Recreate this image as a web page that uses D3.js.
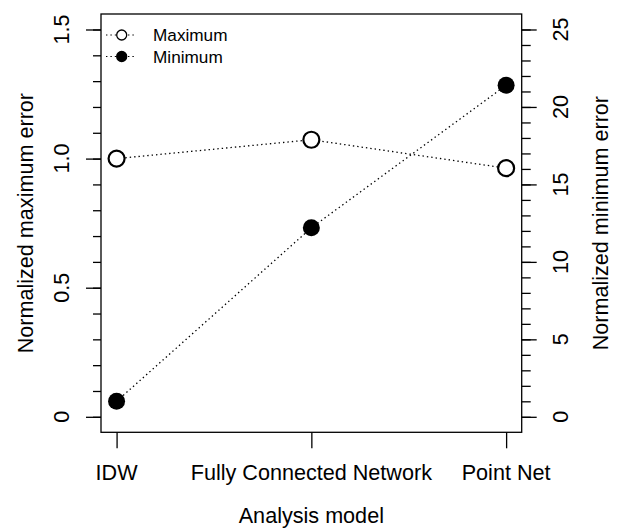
<!DOCTYPE html>
<html>
<head>
<meta charset="utf-8">
<script src="https://cdn.jsdelivr.net/npm/d3@7"></script>
<style>
    body { margin: 0; background: #fff; }
    svg text { font-family: "Liberation Sans", Arial, sans-serif; fill: #000; }
</style>
</head>
<body>
<svg id="chart" width="619" height="529"></svg>
<script>
    // chart values
    const models = ["IDW", "Fully Connected Network", "Point Net"];
    const maxError = [1.0, 1.073, 0.963];     // left axis
    const minError = [1.0, 12.2, 21.4];       // right axis
    const leftTicks = [0, 0.5, 1.0, 1.5];
    const rightTicks = [0, 5, 10, 15, 20, 25];
    const legendLabels = ["Maximum", "Minimum"];

    const svg = d3.select("#chart");
    const box = { left: 101, right: 521.7, top: 14, bottom: 432.3 };
    const FS = 21.6;   // axis text size

    // R style: 4% padding around the data range
    const x = d3.scaleLinear().domain([0.92, 3.08]).range([box.left, box.right]);
    const yL = d3.scaleLinear().domain([-0.06, 1.56]).range([box.bottom, box.top]);
    const yR = d3.scaleLinear().domain([-1, 26]).range([box.bottom, box.top]);

    const xi = (d, i) => x(i + 1);

    // plot frame
    svg.append("rect")
        .attr("x", box.left).attr("y", box.top)
        .attr("width", box.right - box.left).attr("height", box.bottom - box.top)
        .attr("fill", "none").attr("stroke", "#000").attr("stroke-width", 1.3);

    // left axis: major ticks every 0.5, minor every 0.1
    const leftMinor = d3.range(0, 16).map((d) => d / 10);
    svg.append("g")
        .attr("transform", `translate(${box.left},0)`)
        .call(d3.axisLeft(yL).tickValues(leftMinor).tickSize(8).tickFormat(""))
        .call((g) => g.select(".domain").remove());
    svg.append("g")
        .attr("transform", `translate(${box.left},0)`)
        .call(d3.axisLeft(yL).tickValues(leftTicks).tickSize(15).tickFormat(""))
        .call((g) => g.select(".domain").remove());

    svg.append("g").selectAll("text")
        .data(leftTicks)
        .enter()
        .append("text")
        .attr("transform", (d) => `translate(68.5,${yL(d)}) rotate(-90)`)
        .attr("text-anchor", "middle")
        .attr("font-size", FS)
        .text((d) => d === 0 ? "0" : d3.format(".1f")(d));

    // right axis: major every 5, minor every 1
    const rightMinor = d3.range(0, 26);
    svg.append("g")
        .attr("transform", `translate(${box.right},0)`)
        .call(d3.axisRight(yR).tickValues(rightMinor).tickSize(9).tickFormat(""))
        .call((g) => g.select(".domain").remove());
    svg.append("g")
        .attr("transform", `translate(${box.right},0)`)
        .call(d3.axisRight(yR).tickValues(rightTicks).tickSize(15).tickFormat(""))
        .call((g) => g.select(".domain").remove());

    svg.append("g").selectAll("text")
        .data(rightTicks)
        .enter()
        .append("text")
        .attr("transform", (d) => `translate(567.5,${yR(d)}) rotate(-90)`)
        .attr("text-anchor", "middle")
        .attr("font-size", FS)
        .text((d) => d);

    // bottom axis
    svg.append("g")
        .attr("transform", `translate(0,${box.bottom})`)
        .call(d3.axisBottom(x).tickValues([1, 2, 3]).tickSize(16).tickFormat(""))
        .call((g) => g.select(".domain").remove());
    svg.selectAll(".tick line").attr("stroke-width", 1.3);

    svg.append("g").selectAll("text")
        .data(models)
        .enter()
        .append("text")
        .attr("x", xi)
        .attr("y", 480)
        .attr("text-anchor", "middle")
        .attr("font-size", FS)
        .text((d) => d);

    // axis titles
    svg.append("text")
        .attr("x", (box.left + box.right) / 2).attr("y", 523)
        .attr("text-anchor", "middle").attr("font-size", FS)
        .text("Analysis model");
    svg.append("text")
        .attr("transform", `translate(33,${(box.top + box.bottom) / 2}) rotate(-90)`)
        .attr("text-anchor", "middle").attr("font-size", FS)
        .text("Normalized maximum error");
    svg.append("text")
        .attr("transform", `translate(608,${(box.top + box.bottom) / 2}) rotate(-90)`)
        .attr("text-anchor", "middle").attr("font-size", FS)
        .text("Normalized minimum error");

    // series lines (dotted)
    const dotted = "1.4,3";
    svg.append("path")
        .datum(maxError)
        .attr("d", d3.line().x(xi).y((d) => yL(d)))
        .attr("fill", "none").attr("stroke", "#000")
        .attr("stroke-width", 1.3).attr("stroke-dasharray", dotted);
    svg.append("path")
        .datum(minError)
        .attr("d", d3.line().x(xi).y((d) => yR(d)))
        .attr("fill", "none").attr("stroke", "#000")
        .attr("stroke-width", 1.3).attr("stroke-dasharray", dotted);

    // points
    svg.append("g").selectAll("circle")
        .data(maxError)
        .enter()
        .append("circle")
        .attr("cx", xi).attr("cy", (d) => yL(d)).attr("r", 8)
        .attr("fill", "#fff").attr("stroke", "#000").attr("stroke-width", 2.2);
    svg.append("g").selectAll("circle")
        .data(minError)
        .enter()
        .append("circle")
        .attr("cx", xi).attr("cy", (d) => yR(d)).attr("r", 8.5)
        .attr("fill", "#000");

    // legend (no box)
    const legend = svg.append("g").selectAll("g")
        .data(legendLabels)
        .enter()
        .append("g")
        .attr("transform", (d, i) => `translate(0,${35 + i * 21.5})`);
    legend.append("line")
        .attr("x1", 106).attr("x2", 134)
        .attr("stroke", "#000").attr("stroke-width", 1.2)
        .attr("stroke-dasharray", dotted);
    legend.append("circle")
        .attr("cx", 121.7).attr("r", 5)
        .attr("fill", (d, i) => i === 0 ? "#fff" : "#000")
        .attr("stroke", "#000").attr("stroke-width", 1.3);
    legend.append("text")
        .attr("x", 153).attr("y", 6)
        .attr("font-size", 17.2)
        .text((d) => d);
</script>
</body>
</html>
